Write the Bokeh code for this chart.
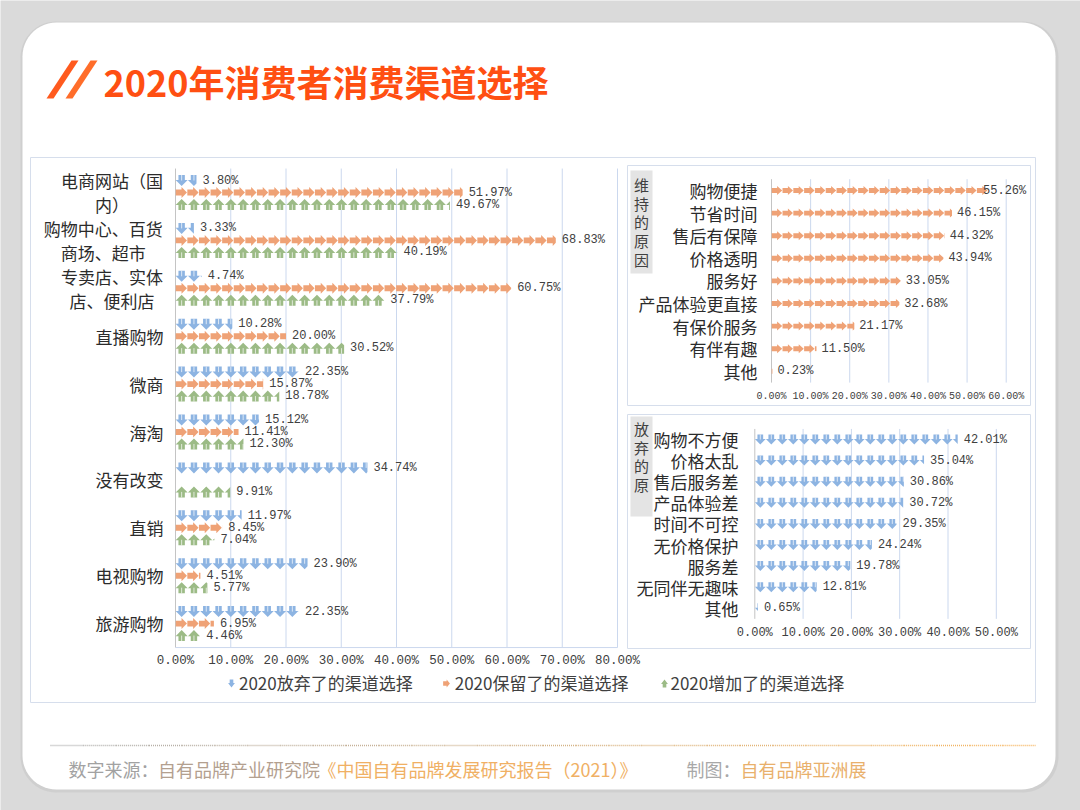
import math
import numpy as np
from bokeh.plotting import figure
from bokeh.models import (Range1d, LinearAxis, FixedTicker, PrintfTickFormatter,
                          Legend, LegendItem)
from bokeh.core.properties import value
from bokeh.embed import file_html
from bokeh.resources import INLINE

# ---------------- data ----------------
TITLE = "2020年消费者消费渠道选择"

channels = ["电商网站（国\n内）", "购物中心、百货\n商场、超市", "专卖店、实体\n店、便利店",
            "直播购物", "微商", "海淘", "没有改变", "直销", "电视购物", "旅游购物"]
abandoned = [3.80, 3.33, 4.74, 10.28, 22.35, 15.12, 34.74, 11.97, 23.90, 22.35]
retained = [51.97, 68.83, 60.75, 20.00, 15.87, 11.41, None, 8.45, 4.51, 6.95]
added = [49.67, 40.19, 37.79, 30.52, 18.78, 12.30, 9.91, 7.04, 5.77, 4.46]
series_names = ["2020放弃了的渠道选择", "2020保留了的渠道选择", "2020增加了的渠道选择"]
left_ticks = [0, 10, 20, 30, 40, 50, 60, 70, 80]

keep_title = "维\n持\n的\n原\n因"
keep_reasons = ["购物便捷", "节省时间", "售后有保障", "价格透明", "服务好",
                "产品体验更直接", "有保价服务", "有伴有趣", "其他"]
keep_values = [55.26, 46.15, 44.32, 43.94, 33.05, 32.68, 21.17, 11.50, 0.23]
keep_ticks = [0, 10, 20, 30, 40, 50, 60]

quit_title = "放\n弃\n的\n原"
quit_reasons = ["购物不方便", "价格太乱", "售后服务差", "产品体验差", "时间不可控",
                "无价格保护", "服务差", "无同伴无趣味", "其他"]
quit_values = [42.01, 35.04, 30.86, 30.72, 29.35, 24.24, 19.78, 12.81, 0.65]
quit_ticks = [0, 10, 20, 30, 40, 50]

footer_parts = ["数字来源：", "自有品牌产业研究院", "《中国自有品牌发展研究报告（2021）》",
                "制图：", "自有品牌亚洲展"]

# ---------------- style ----------------
BG = "#dadada"
CARD = "#ffffff"
BLUE = "#8db4e2"
ORANGE = "#efa276"
GREEN = "#9cbb86"
TXT = "#404040"
LBL = "#2b2b2b"
GRID = "#cbd8ee"
ZERO = "#c4c4c4"
BOX = "#d6deec"
CJK = "Noto Sans CJK SC"
NUMF = "Liberation Mono"

W, H = 1080, 810
X0, X1 = 0, 1080      # reference pixel span covered by the frame
Y0, Y1 = 0, 810

p = figure(width=W, height=H, x_range=Range1d(X0, X1), y_range=Range1d(Y1, Y0),
           x_axis_type=None, y_axis_type=None, output_backend="svg",
           toolbar_location=None, min_border=0, outline_line_color=None,
           background_fill_color=BG, border_fill_color=BG)


def xrange_for(p0, v0, p1, v1):
    s = (p1 - p0) / (v1 - v0)
    return Range1d(v0 + (X0 - p0) / s, v0 + (X1 - p0) / s), s


def yrange_for(p0, pitch):
    return Range1d((Y1 - p0) / pitch, (Y0 - p0) / pitch)


lx, ls = xrange_for(175, left_ticks[0], 617, left_ticks[-1])
kx, ks = xrange_for(771, keep_ticks[0], 1005.7, keep_ticks[-1])
qx, qs = xrange_for(754.3, quit_ticks[0], 995.8, quit_ticks[-1])
L_PITCH, K_PITCH, Q_PITCH = 47.9, 22.6, 21.1
p.extra_x_ranges = {"lx": lx, "kx": kx, "qx": qx}
p.extra_y_ranges = {"ly": yrange_for(192, L_PITCH), "ky": yrange_for(190, K_PITCH),
                    "qy": yrange_for(439, Q_PITCH)}

# ---------------- card & decorations ----------------


def rounded_rect(x0, y0, x1, y1, r, n=14):
    xs, ys = [], []
    for cx, cy, a0, a1 in [(x1 - r, y0 + r, -90, 0), (x1 - r, y1 - r, 0, 90),
                           (x0 + r, y1 - r, 90, 180), (x0 + r, y0 + r, 180, 270)]:
        for a in np.linspace(a0, a1, n):
            t = math.radians(a)
            xs.append(cx + r * math.cos(t))
            ys.append(cy + r * math.sin(t))
    return xs, ys


# soft shadow + card
sx_, sy_ = rounded_rect(20, 21, 1058, 792, 36)
p.patch(sx_, sy_, fill_color="#cfcfcf", line_color=None)
cx_, cy_ = rounded_rect(22, 22, 1055, 789, 34)
p.patch(cx_, cy_, fill_color=CARD, line_color=None)

# title slashes + title
p.patches([[46, 53, 78, 71], [65, 72, 97, 90]], [[98, 98, 60, 60], [98, 98, 60, 60]],
          fill_color=["#ff5a1e", "#ff6d2a"], line_color=None)
p.text(x=[103], y=[80], text=[TITLE], text_font=value(CJK), text_font_size="36px",
       text_font_style="bold", text_color="#ff4f12", text_baseline="middle")

# chart boxes
p.quad(left=[30, 627, 627], right=[1035, 1030, 1030], top=[157, 165, 414],
       bottom=[702, 405, 648], fill_color=None, line_color=BOX, line_width=1)
# side label boxes
p.quad(left=[630, 630], right=[652, 652], top=[170, 416], bottom=[273, 516],
       fill_color="#e4e4e4", line_color=None)
p.text(x=[641, 641], y=[221.5, 456], text=[keep_title, quit_title], text_align="center",
       text_baseline="middle", text_font=value(CJK), text_font_size="15px",
       text_line_height=0.9, text_color=TXT)

# footer dotted line (grey -> orange)
nseg = 30
xs_d = np.linspace(50, 1035, nseg + 1)
c0 = np.array([176, 176, 176])
c1 = np.array([246, 182, 96])
cols = ["#%02x%02x%02x" % tuple(int(v) for v in (c0 + (c1 - c0) * t))
        for t in np.linspace(0, 1, nseg)]
p.segment(x0=xs_d[:-1], x1=xs_d[1:], y0=[745] * nseg, y1=[745] * nseg,
          line_color=cols, line_width=1.6, line_dash="1 1")

foot_x = [68, 157.5, 318, 686, 740]
foot_c = ["#a2a2a2", "#b3a08f", "#f0b064", "#a8a8a8", "#e9b06c"]
p.text(x=foot_x, y=[768] * 5, text=footer_parts, text_font=value(CJK),
       text_font_size="18px", text_color=foot_c, text_baseline="middle")

# ---------------- pictograph helpers ----------------


def arrow_poly(kind, x0, u, yc, h):
    if kind == "right":
        fx = [0.02, 0.52, 0.52, 0.99, 0.52, 0.52, 0.02]
        fy = [-0.27, -0.27, -0.5, 0.0, 0.5, 0.27, 0.27]
    elif kind == "down":
        fx = [0.24, 0.76, 0.76, 0.99, 0.5, 0.01, 0.24]
        fy = [-0.5, -0.5, -0.05, -0.05, 0.5, -0.05, -0.05]
    else:
        fx = [0.24, 0.76, 0.76, 0.99, 0.5, 0.01, 0.24]
        fy = [0.5, 0.5, 0.05, 0.05, -0.5, 0.05, 0.05]
    return [x0 + f * u for f in fx], [yc + f * h for f in fy]


def clip_right(px, py, xmax):
    ox, oy = [], []
    n = len(px)
    for j in range(n):
        x1, y1 = px[j], py[j]
        x2, y2 = px[(j + 1) % n], py[(j + 1) % n]
        in1, in2 = x1 <= xmax, x2 <= xmax
        if in1:
            ox.append(x1)
            oy.append(y1)
        if in1 != in2:
            t = (xmax - x1) / (x2 - x1)
            ox.append(xmax)
            oy.append(y1 + t * (y2 - y1))
    return ox, oy


def pictograph(vals, offset, unit, h, kind):
    xs, ys, lx0, ly0, ly1 = [], [], [], [], []
    for i, v in enumerate(vals):
        if v is None or v <= 0:
            continue
        n = int(math.ceil(v / unit))
        for k in range(n):
            px, py = arrow_poly(kind, k * unit, unit, i + offset, h)
            px, py = clip_right(px, py, v)
            if len(px) >= 3:
                xs.append(px)
                ys.append(py)
            cx = k * unit + 0.5 * unit
            if kind != "right" and cx < v:
                lx0.append(cx)
                if kind == "down":
                    ly0.append(i + offset - 0.5 * h)
                    ly1.append(i + offset)
                else:
                    ly0.append(i + offset + 0.5 * h)
                    ly1.append(i + offset)
    return xs, ys, lx0, ly0, ly1


def draw_series(vals, offset, unit_px, scale, h_px, pitch, kind, color, xn, yn):
    xs, ys, sx, sy0, sy1 = pictograph(vals, offset, unit_px / scale, h_px / pitch, kind)
    r = p.patches(xs, ys, fill_color=color, line_color=None, x_range_name=xn, y_range_name=yn)
    if sx:
        p.segment(x0=sx, x1=sx, y0=sy0, y1=sy1, line_color="white", line_width=1,
                  line_alpha=0.7, x_range_name=xn, y_range_name=yn)
    return r


def value_labels(vals, offset, xn, yn, cap=None, dx=6):
    xs, ys, tx = [], [], []
    for i, v in enumerate(vals):
        if v is None:
            continue
        xs.append(min(v, cap) if cap is not None else v)
        ys.append(i + offset)
        tx.append(f"{v:.2f}%")
    p.text(x=xs, y=ys, text=tx, x_offset=dx, text_baseline="middle", text_align="left",
           text_font=value(NUMF), text_font_size="12px", text_color=TXT,
           x_range_name=xn, y_range_name=yn)


def grid(ticks, n, xn, yn):
    cols = [ZERO] + [GRID] * (len(ticks) - 1)
    p.segment(x0=ticks, x1=ticks, y0=[-0.5] * len(ticks), y1=[n - 0.5] * len(ticks),
              line_color=cols, line_width=1, x_range_name=xn, y_range_name=yn)


def axis(ticks, n, xn, yn, standoff, size):
    ax = LinearAxis(x_range_name=xn, y_range_name=yn, fixed_location=n - 0.5,
                    ticker=FixedTicker(ticks=ticks),
                    formatter=PrintfTickFormatter(format="%.2f%%"),
                    axis_line_color=None, major_tick_line_color=None,
                    major_tick_in=0, major_tick_out=0,
                    minor_tick_line_color=None, major_label_standoff=standoff,
                    major_label_text_font=NUMF, major_label_text_font_size=size,
                    major_label_text_color=TXT)
    p.add_layout(ax, "below")


# ---------------- left chart ----------------
nL = len(channels)
grid(left_ticks, nL, "lx", "ly")
p.segment(x0=[left_ticks[0]], x1=[left_ticks[-1]], y0=[nL - 0.5], y1=[nL - 0.5],
          line_color=GRID, line_width=1, x_range_name="lx", y_range_name="ly")
off = 12 / L_PITCH
draw_series(abandoned, -off, 12.3, ls, 11, L_PITCH, "down", BLUE, "lx", "ly")
draw_series(retained, 0, 11.6, ls, 11, L_PITCH, "right", ORANGE, "lx", "ly")
draw_series(added, off, 12.3, ls, 11, L_PITCH, "up", GREEN, "lx", "ly")
value_labels(abandoned, -off, "lx", "ly")
value_labels(retained, 0, "lx", "ly")
value_labels(added, off, "lx", "ly")
axis(left_ticks, nL, "lx", "ly", 6, "12.5px")

LABEL_RIGHT = 163
CH_W = 17.2
single = [(i, c) for i, c in enumerate(channels) if "\n" not in c]
multi = [(i, c) for i, c in enumerate(channels) if "\n" in c]
p.text(x=[LABEL_RIGHT] * len(single), y=[i for i, _ in single], text=[c for _, c in single],
       text_align="right", text_baseline="middle", text_font=value(CJK),
       text_font_size="17px", text_color=LBL, y_range_name="ly")
p.text(x=[LABEL_RIGHT - max(len(s) for s in c.split("\n")) * CH_W / 2 for _, c in multi],
       y=[i for i, _ in multi], text=[c for _, c in multi],
       text_align="center", text_baseline="middle", text_font=value(CJK),
       text_font_size="17px", text_line_height=0.98, text_color=LBL, y_range_name="ly")

# ---------------- right top chart ----------------
nK = len(keep_reasons)
grid(keep_ticks, nK, "kx", "ky")
draw_series(keep_values, 0, 10.8, ks, 9, K_PITCH, "right", ORANGE, "kx", "ky")
value_labels(keep_values, 0, "kx", "ky", cap=52.8, dx=5)
axis(keep_ticks, nK, "kx", "ky", 8, "10px")
p.text(x=[757] * nK, y=list(range(nK)), text=keep_reasons, text_align="right",
       text_baseline="middle", text_font=value(CJK), text_font_size="17px",
       text_color=LBL, y_range_name="ky")

# ---------------- right bottom chart ----------------
nQ = len(quit_reasons)
grid(quit_ticks, nQ, "qx", "qy")
draw_series(quit_values, 0, 11.0, qs, 10, Q_PITCH, "down", BLUE, "qx", "qy")
value_labels(quit_values, 0, "qx", "qy", dx=6)
axis(quit_ticks, nQ, "qx", "qy", 7, "12px")
p.text(x=[738] * nQ, y=list(range(nQ)), text=quit_reasons, text_align="right",
       text_baseline="middle", text_font=value(CJK), text_font_size="17px",
       text_color=LBL, y_range_name="qy")

# ---------------- legend ----------------
nan = float("nan")
leg_r = [p.scatter(x=[nan], y=[nan], marker="square", size=1, fill_alpha=0, line_alpha=0)
         for _ in series_names]
legend = Legend(items=[LegendItem(label=s, renderers=[r]) for s, r in zip(series_names, leg_r)],
                orientation="horizontal", location=(221, 115), glyph_width=18,
                glyph_height=18, label_height=18, label_standoff=0, spacing=24,
                padding=0, margin=0, border_line_color=None, background_fill_alpha=0,
                label_text_font=CJK, label_text_font_size="17px", label_text_color=TXT)
p.add_layout(legend)

# small arrow icons in the legend glyph slots
icon_cx = [231, 446, 664]
icon_kind = ["down", "right", "up"]
icon_col = [BLUE, ORANGE, GREEN]
ixs, iys = [], []
for cxi, kd in zip(icon_cx, icon_kind):
    a, b = arrow_poly(kd, cxi - 3.5, 7, 683, 8)
    ixs.append(a)
    iys.append(b)
p.patches(ixs, iys, fill_color=icon_col, line_color=None)

html = file_html(p, INLINE)
open("out.html", "w").write(html)
